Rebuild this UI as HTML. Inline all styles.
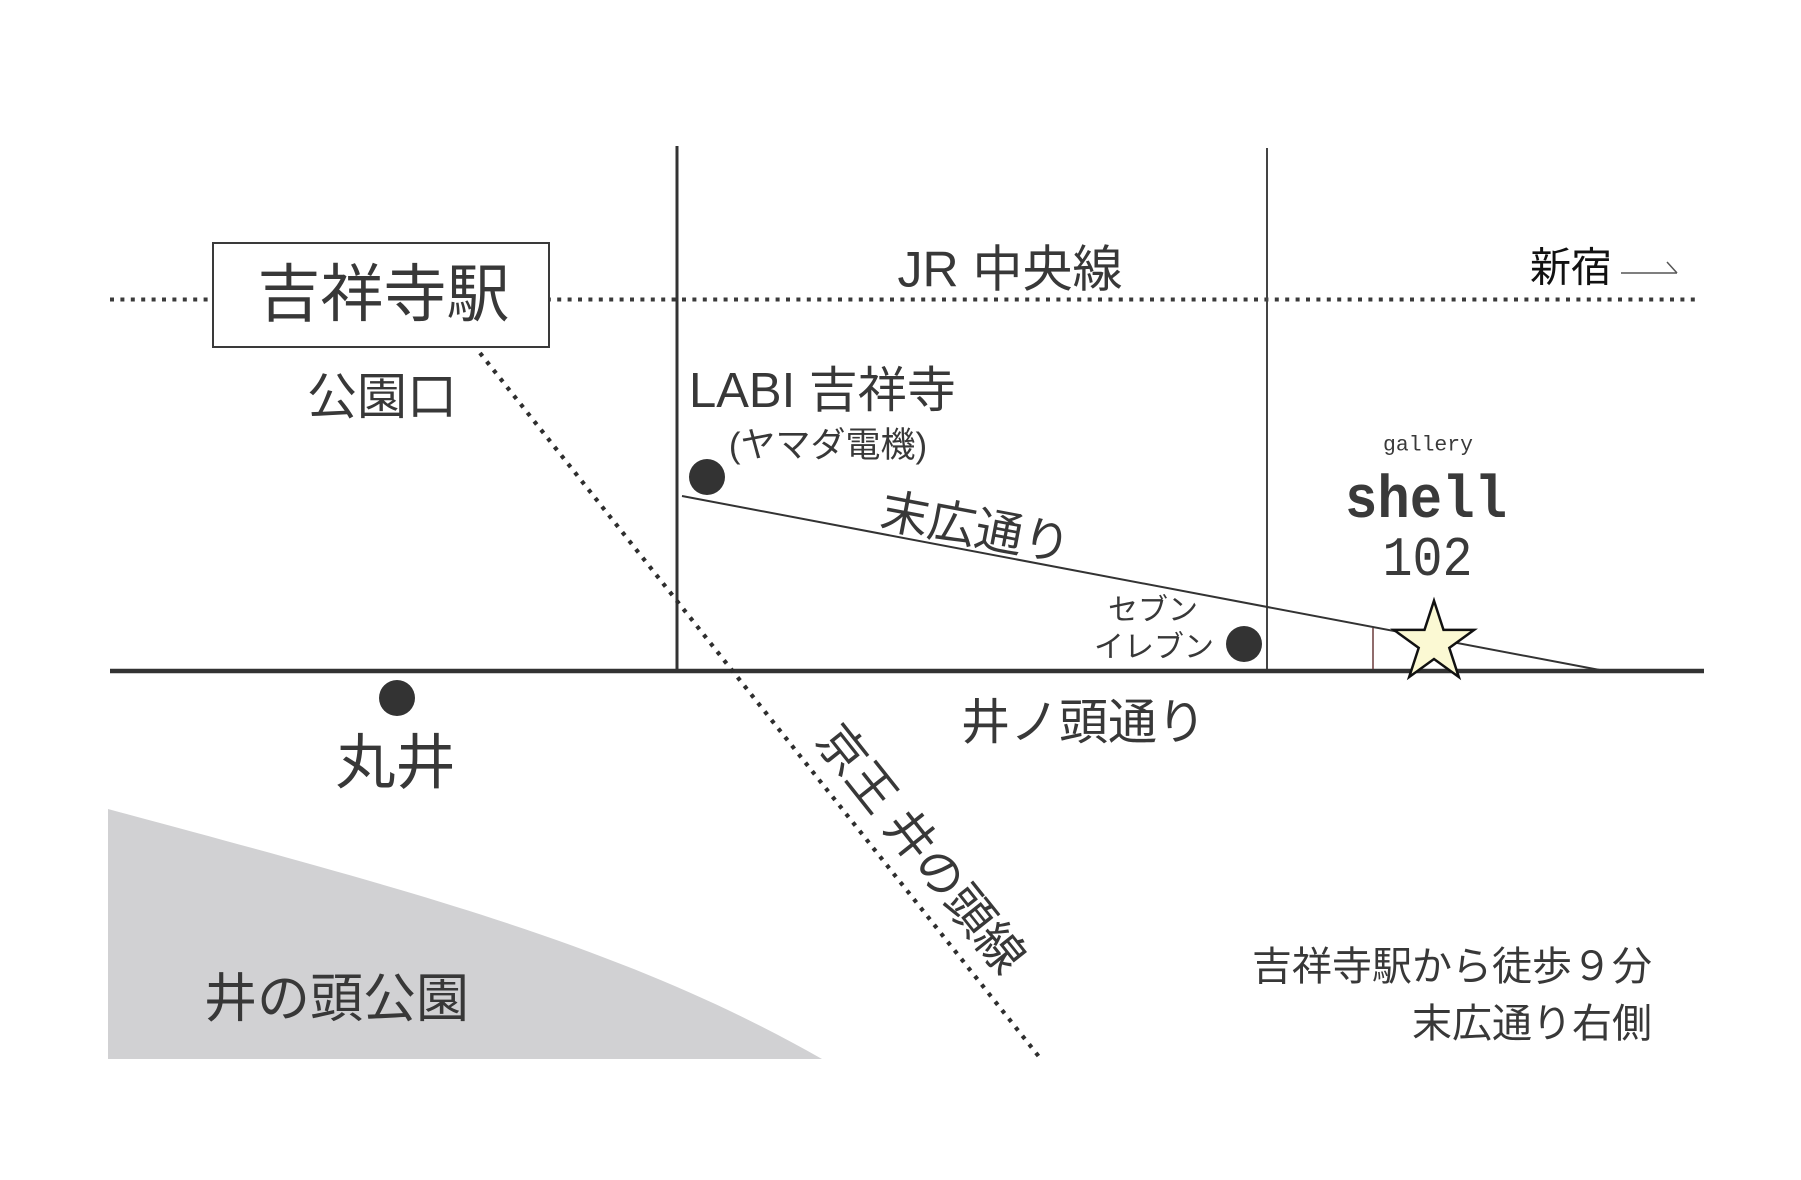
<!DOCTYPE html>
<html><head><meta charset="utf-8">
<style>
html,body{margin:0;padding:0;background:#fff;}
svg{display:block;}
.t{font-family:"Liberation Sans","Noto Sans CJK JP",sans-serif;fill:#383838;}
.m{font-family:"Liberation Mono","DejaVu Sans Mono",monospace;fill:#3a3a3a;}
</style></head>
<body>
<svg width="1801" height="1180" viewBox="0 0 1801 1180" xmlns="http://www.w3.org/2000/svg">
<rect width="1801" height="1180" fill="#fff"/>
<!-- park -->
<path d="M108,809 C408,890 622,945 822,1059 L108,1059 Z" fill="#d1d1d3"/>
<!-- JR dotted line -->
<line x1="110" y1="299.5" x2="1700" y2="299.5" stroke="#3a3a3a" stroke-width="4" stroke-dasharray="4 6.4"/>
<!-- station box -->
<rect x="213" y="243" width="336" height="104" fill="#fff" stroke="#3a3a3a" stroke-width="2"/>
<!-- verticals -->
<line x1="677" y1="146" x2="677" y2="672" stroke="#333" stroke-width="3"/>
<line x1="1267" y1="148" x2="1267" y2="672" stroke="#444" stroke-width="2"/>
<!-- main road -->
<line x1="110" y1="671" x2="1704" y2="671" stroke="#333" stroke-width="4.5"/>
<!-- suehiro slope -->
<line x1="682" y1="496" x2="1605" y2="671" stroke="#333" stroke-width="2"/>
<!-- keio dotted -->
<line x1="480" y1="353" x2="1040" y2="1058" stroke="#2e2e2e" stroke-width="4.2" stroke-dasharray="4 6.9"/>
<!-- dots -->
<circle cx="707" cy="477" r="18" fill="#333"/>
<circle cx="1244" cy="644" r="18" fill="#333"/>
<circle cx="397" cy="698" r="18" fill="#333"/>
<!-- small marker line -->
<line x1="1373" y1="628" x2="1373" y2="669" stroke="#6b3a3a" stroke-width="1.5"/>
<!-- star -->
<polygon points="1434,600.7 1443.5,629.9 1474.1,629.9 1449.3,647.9 1458.8,677 1434,659 1409.2,677 1418.7,647.9 1393.9,629.9 1424.5,629.9" fill="#fbf9d3" stroke="#111" stroke-width="2.5" stroke-linejoin="miter"/>
<!-- arrow -->
<line x1="1621" y1="273" x2="1677" y2="273" stroke="#555" stroke-width="1.5"/>
<line x1="1667" y1="262" x2="1677" y2="273" stroke="#555" stroke-width="1.5"/>

<!-- texts -->
<text class="t" x="383.5" y="316" font-size="63" text-anchor="middle">吉祥寺駅</text>
<text class="t" x="382" y="414" font-size="50" text-anchor="middle">公園口</text>
<text class="t" x="1010" y="286.5" font-size="50" text-anchor="middle">JR 中央線</text>
<text class="t" x="1571" y="281.5" font-size="41" text-anchor="middle" style="fill:#111">新宿</text>
<text class="t" x="689" y="407" font-size="49">LABI 吉祥寺</text>
<text class="t" x="828" y="457" font-size="35" text-anchor="middle">(ヤマダ電機)</text>
<g transform="translate(976,526.5) rotate(10.7)">
<text class="t" x="0" y="18" font-size="48" text-anchor="middle">末広通り</text>
</g>
<text class="t" x="1153" y="620" font-size="30" text-anchor="middle">セブン</text>
<text class="t" x="1154" y="657" font-size="30" text-anchor="middle">イレブン</text>
<text class="t" x="1083.5" y="739" font-size="49" text-anchor="middle">井ノ頭通り</text>
<text class="t" x="395.5" y="783.5" font-size="60" text-anchor="middle">丸井</text>
<text class="t" x="336.5" y="1016.5" font-size="53" text-anchor="middle">井の頭公園</text>
<g transform="translate(922,848) rotate(51.5)">
<text class="t" x="0" y="18" font-size="48" text-anchor="middle">京王 井の頭線</text>
</g>
<text class="t" x="1652" y="980" font-size="40" text-anchor="end">吉祥寺駅から徒歩９分</text>
<text class="t" x="1652" y="1037" font-size="40" text-anchor="end">末広通り右側</text>

<text class="m" x="1428" y="450.5" font-size="21" text-anchor="middle" textLength="90" lengthAdjust="spacingAndGlyphs">gallery</text>
<text class="m" x="1426" y="517" font-size="60" font-weight="bold" text-anchor="middle" textLength="162" lengthAdjust="spacingAndGlyphs">shell</text>
<text class="m" x="1427.5" y="575" font-size="56" text-anchor="middle" textLength="90" lengthAdjust="spacingAndGlyphs">102</text>
</svg>
</body></html>
